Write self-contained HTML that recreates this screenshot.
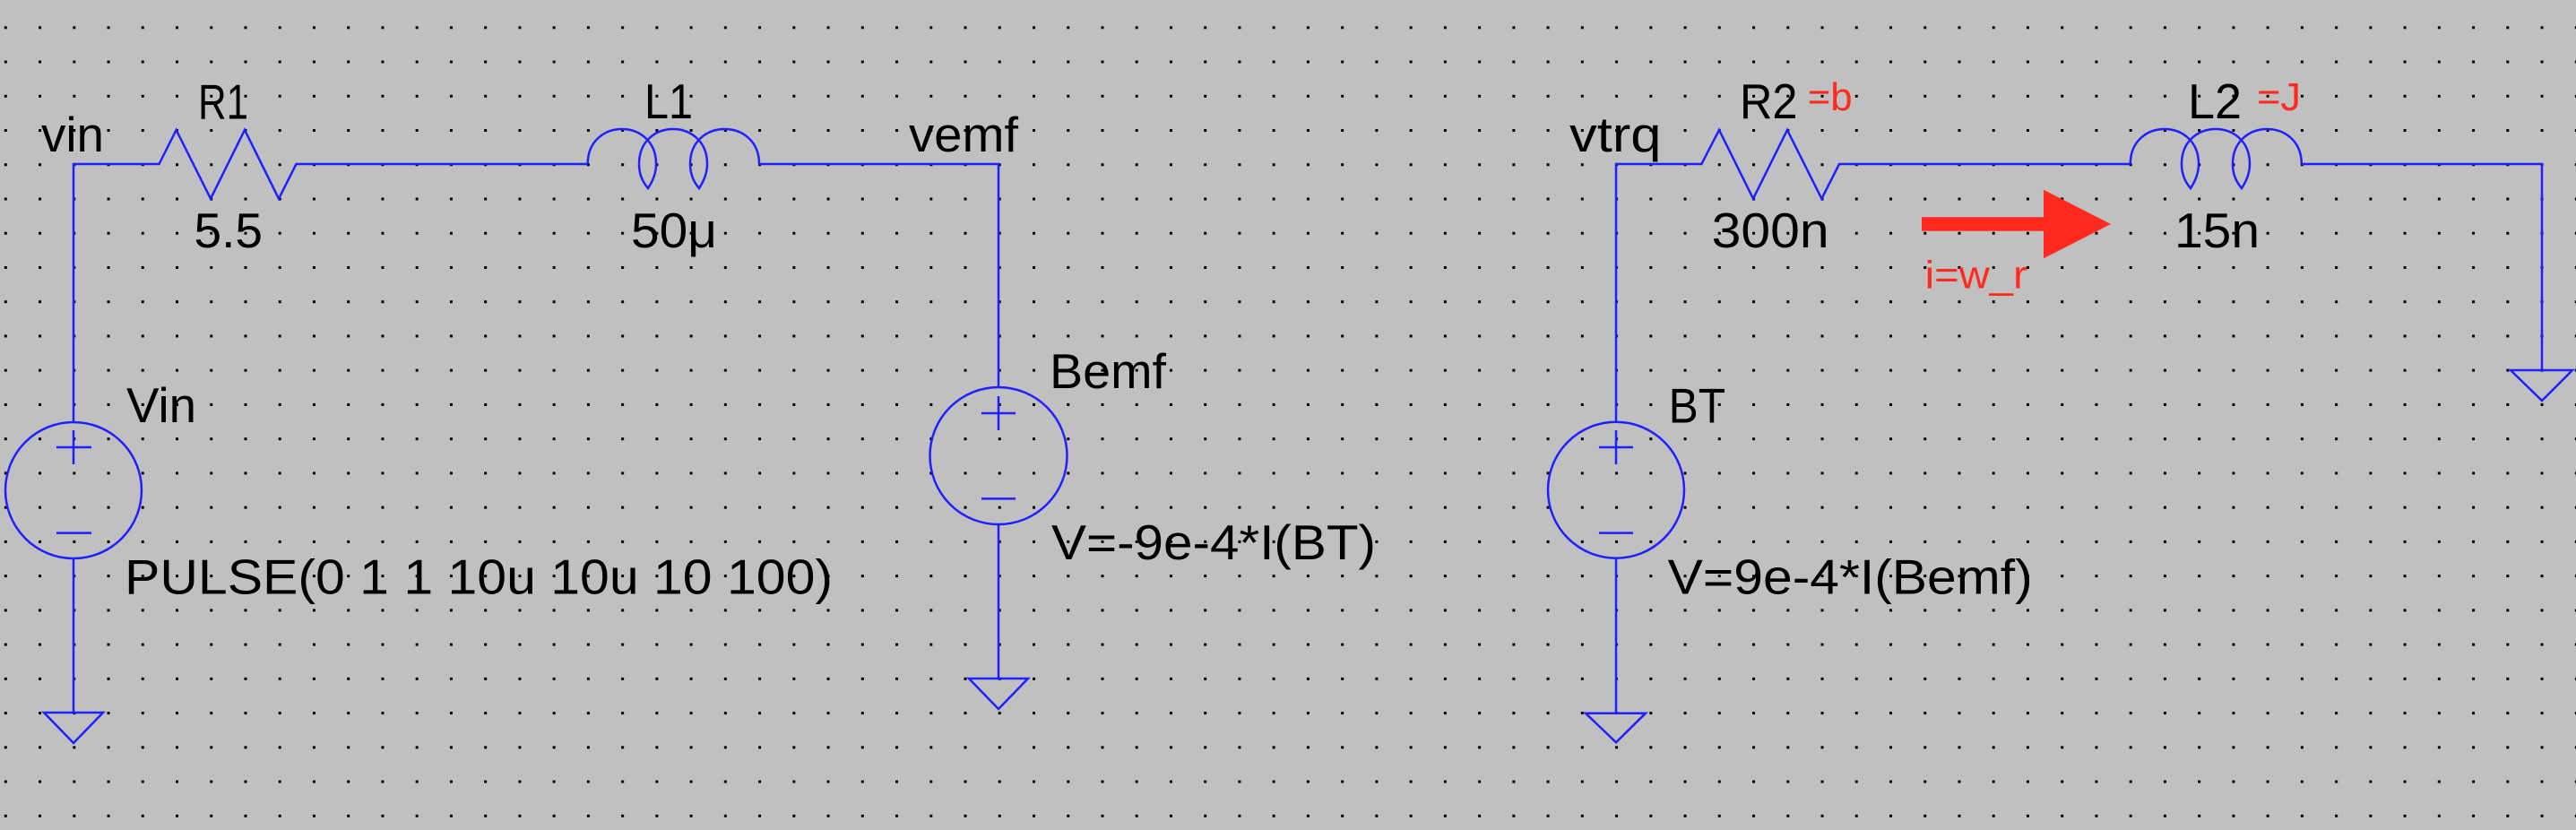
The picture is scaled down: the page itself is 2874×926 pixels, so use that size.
<!DOCTYPE html>
<html><head><meta charset="utf-8"><style>
html,body{margin:0;padding:0;background:#c0c0c0;}
svg{display:block;}
text{font-family:"Liberation Sans",sans-serif;}
</style></head><body>
<svg width="2874" height="926" viewBox="0 0 2874 926" xmlns="http://www.w3.org/2000/svg">
<defs>
<pattern id="g" x="4.8" y="29.3" width="38.24" height="38.24" patternUnits="userSpaceOnUse">
<rect x="0" y="0" width="3" height="3" fill="#000"/>
</pattern>
</defs>
<rect width="2874" height="926" fill="#c0c0c0"/>
<rect width="2874" height="926" fill="url(#g)"/>
<g fill="none" stroke="#1f1fff" stroke-width="2.5">
<polyline points="82,623 82,795"/>
<polyline points="82,470.5 82,183 177.5,183 196.6,145 235,221.7 273,145 311,221.7 330.5,183 655.7,183"/>
<path d="M655.7,183 C655.7,131 732,131 732,183 C732,195 727,204 723,210 C716,202 713,192 713,183 C713,131 789,131 789,183 C789,195 784,204 780,210 C773,202 770,192 770,183 C770,131 847,131 847,183"/>
<polyline points="847,183 1114,183 1114,432"/>
<line x1="1114" y1="585" x2="1114" y2="757"/>
<ellipse cx="82" cy="547" rx="76" ry="76"/>
<line x1="63" y1="499" x2="102" y2="499"/><line x1="82" y1="480" x2="82" y2="518"/>
<line x1="63" y1="594.6" x2="102" y2="594.6"/>
<polygon points="49,795 115,795 82,829"/>
<ellipse cx="1114" cy="508.5" rx="76.5" ry="76.5"/>
<line x1="1095" y1="461" x2="1133" y2="461"/><line x1="1114" y1="442" x2="1114" y2="480"/>
<line x1="1095" y1="556.4" x2="1133" y2="556.4"/>
<polygon points="1081,757 1147,757 1114,791"/>
<polyline points="1803,470.7 1803,183 1898.4,183 1918,145 1956,221.7 1994,145 2032.4,221.7 2052,183 2376.8,183"/>
<path d="M2376.8,183 C2376.8,131 2453,131 2453,183 C2453,195 2448,204 2444,210 C2437,202 2434,192 2434,183 C2434,131 2510,131 2510,183 C2510,195 2505,204 2501,210 C2494,202 2491,192 2491,183 C2491,131 2567.8,131 2567.8,183"/>
<polyline points="2567.8,183 2836,183 2836,413"/>
<polygon points="2801,413 2870,413 2836,447"/>
<ellipse cx="1803" cy="546.7" rx="76" ry="76"/>
<line x1="1784" y1="499" x2="1822" y2="499"/><line x1="1803" y1="480" x2="1803" y2="518"/>
<line x1="1784" y1="594.6" x2="1822" y2="594.6"/>
<line x1="1803" y1="622.7" x2="1803" y2="795.7"/>
<polygon points="1769,795.7 1836,795.7 1803,828.3"/>
</g>
<polygon points="2144,242.3 2280,242.3 2280,211.7 2355,250 2280,288.3 2280,257.7 2144,257.7" fill="#ff2a1f"/>
<g fill="#000" font-size="55">
<text x="221" y="132.7" textLength="56" lengthAdjust="spacingAndGlyphs">R1</text>
<text x="719" y="132" textLength="54" lengthAdjust="spacingAndGlyphs">L1</text>
<text x="46" y="169" textLength="70" lengthAdjust="spacingAndGlyphs">vin</text>
<text x="1014" y="169" textLength="122" lengthAdjust="spacingAndGlyphs">vemf</text>
<text x="216.5" y="276" textLength="76.5" lengthAdjust="spacingAndGlyphs">5.5</text>
<text x="704" y="276" textLength="96" lengthAdjust="spacingAndGlyphs">50μ</text>
<text x="141" y="471" textLength="78" lengthAdjust="spacingAndGlyphs">Vin</text>
<text x="139" y="662.7" textLength="790" lengthAdjust="spacingAndGlyphs">PULSE(0 1 1 10u 10u 10 100)</text>
<text x="1171" y="433" textLength="130" lengthAdjust="spacingAndGlyphs">Bemf</text>
<text x="1173" y="624" textLength="362" lengthAdjust="spacingAndGlyphs">V=-9e-4*I(BT)</text>
<text x="1751" y="169" textLength="102.5" lengthAdjust="spacingAndGlyphs">vtrq</text>
<text x="1941" y="132" textLength="64.5" lengthAdjust="spacingAndGlyphs">R2</text>
<text x="1909.6" y="276" textLength="131" lengthAdjust="spacingAndGlyphs">300n</text>
<text x="2441" y="132" textLength="60" lengthAdjust="spacingAndGlyphs">L2</text>
<text x="2426" y="276" textLength="95" lengthAdjust="spacingAndGlyphs">15n</text>
<text x="1861.6" y="471.7" textLength="63.5" lengthAdjust="spacingAndGlyphs">BT</text>
<text x="1860.7" y="662.7" textLength="407" lengthAdjust="spacingAndGlyphs">V=9e-4*I(Bemf)</text>
</g>
<g fill="#ff2a1f" font-size="44">
<text x="2016.7" y="123" textLength="50" lengthAdjust="spacingAndGlyphs">=b</text>
<text x="2518" y="123" textLength="49" lengthAdjust="spacingAndGlyphs">=J</text>
<text x="2147.7" y="321.7" textLength="114" lengthAdjust="spacingAndGlyphs">i=w_r</text>
</g>
</svg>
</body></html>
